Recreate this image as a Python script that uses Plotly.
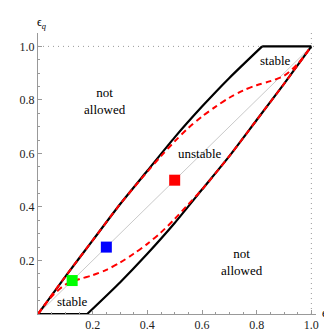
import plotly.graph_objects as go

# Outer boundary (black)
upper_x = [0, 0.1, 0.2, 0.3, 0.4, 0.5, 0.6, 0.7, 0.82, 1.0]
upper_y = [0, 0.14, 0.275, 0.41, 0.535, 0.66, 0.775, 0.882, 1.0, 1.0]
lower_x = [0, 0.18, 0.3, 0.4, 0.5, 0.6, 0.7, 0.8, 0.9, 1.0]
lower_y = [0, 0, 0.118, 0.225, 0.34, 0.465, 0.59, 0.725, 0.86, 1.0]

# Stability boundary (red dashed)
red_up_x = [0, 0.1, 0.2, 0.3, 0.4, 0.45, 0.5, 0.55, 0.6, 0.65, 0.7, 0.75, 0.8, 0.85, 0.9, 0.95, 1.0]
red_up_y = [0, 0.14, 0.275, 0.41, 0.532, 0.59, 0.645, 0.695, 0.738, 0.775, 0.808, 0.835, 0.855, 0.87, 0.89, 0.935, 1.0]
red_lo_x = [0, 0.05, 0.1, 0.15, 0.2, 0.25, 0.3, 0.35, 0.4, 0.45, 0.5, 0.55, 0.6, 0.7, 0.8, 0.9, 1.0]
red_lo_y = [0, 0.065, 0.11, 0.13, 0.145, 0.165, 0.192, 0.225, 0.262, 0.305, 0.355, 0.41, 0.465, 0.59, 0.725, 0.86, 1.0]

# Diagonal
diag = [0, 1]

# Points
pts_x = [0.125, 0.25, 0.5]
pts_y = [0.125, 0.25, 0.5]
pts_colors = ["#00FF00", "#0000FF", "#FF0000"]

# Region labels
lab_text = ["not<br>allowed", "not<br>allowed", "unstable", "stable", "stable"]
lab_x = [0.246, 0.747, 0.594, 0.867, 0.127]
lab_y = [0.797, 0.196, 0.598, 0.948, 0.046]

ticks = [0.2, 0.4, 0.6, 0.8, 1.0]
tick_text = ["0.2", "0.4", "0.6", "0.8", "1.0"]

serif = "Liberation Serif, DejaVu Serif, serif"

fig = go.Figure()

fig.add_trace(go.Scatter(x=diag, y=diag, mode="lines",
        line=dict(color="#BBBBBB", width=0.8)))
# curved parts smoothed, flat parts straight
fig.add_trace(go.Scatter(x=upper_x[:-1], y=upper_y[:-1], mode="lines", line_shape="spline",
        line=dict(color="black", width=2.2, smoothing=0.6)))
fig.add_trace(go.Scatter(x=upper_x[-2:], y=upper_y[-2:], mode="lines",
        line=dict(color="black", width=2.2)))
fig.add_trace(go.Scatter(x=lower_x[:2], y=lower_y[:2], mode="lines",
        line=dict(color="black", width=2.2)))
fig.add_trace(go.Scatter(x=lower_x[1:], y=lower_y[1:], mode="lines", line_shape="spline",
        line=dict(color="black", width=2.2, smoothing=0.6)))
fig.add_trace(go.Scatter(x=red_up_x, y=red_up_y, mode="lines", line_shape="spline",
        line=dict(color="#FF0000", width=2, dash="6px,4px", smoothing=0.8)))
fig.add_trace(go.Scatter(x=red_lo_x, y=red_lo_y, mode="lines", line_shape="spline",
        line=dict(color="#FF0000", width=2, dash="6px,4px", smoothing=0.8)))
fig.add_trace(go.Scatter(x=pts_x, y=pts_y, mode="markers",
        marker=dict(symbol="square", size=11, color=pts_colors, line=dict(width=0))))

# dotted guide lines at 1
fig.add_shape(type="line", x0=0, x1=1.017, y0=1, y1=1, layer="below",
        line=dict(color="#999999", width=1, dash="1px,4px"))
fig.add_shape(type="line", x0=1, x1=1, y0=0, y1=1.05, layer="below",
        line=dict(color="#999999", width=1, dash="1px,4px"))

for t, x, y in zip(lab_text, lab_x, lab_y):
    fig.add_annotation(x=x, y=y, text=t, showarrow=False,
            font=dict(family=serif, size=13, color="black"))

fig.add_annotation(xref="paper", yref="paper", x=-0.01, y=1.0, yanchor="bottom",
        text="ϵ<sub><i>q</i></sub>", showarrow=False,
        font=dict(family=serif, size=12, color="black"))
fig.add_annotation(xref="paper", yref="paper", x=1.04, y=0.0, xanchor="center",
        yanchor="middle", text="ϵ<sub><i>m</i></sub>", showarrow=False,
        font=dict(family=serif, size=12, color="black"))

axis_common = dict(
    tickvals=ticks, ticktext=tick_text, ticks="inside", ticklen=4,
    tickcolor="#999999", showline=True, linecolor="#999999", linewidth=1,
    showgrid=False, zeroline=False,
    tickfont=dict(family=serif, size=12, color="#222222"),
    minor=dict(dtick=0.05, tick0=0, ticks="inside", ticklen=2, tickcolor="#999999"),
)

fig.update_layout(
    width=332, height=336,
    margin=dict(l=19, r=24, t=25, b=21),
    plot_bgcolor="white", paper_bgcolor="white",
    showlegend=False,
    xaxis=dict(range=[0, 1.017], **axis_common),
    yaxis=dict(range=[0, 1.05], **axis_common),
)

fig.write_html("out.html")
